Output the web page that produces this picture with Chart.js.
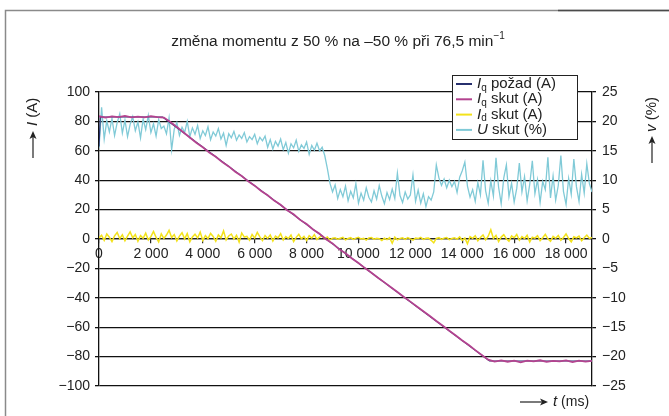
<!DOCTYPE html>
<html>
<head>
<meta charset="utf-8">
<script src="https://cdn.jsdelivr.net/npm/chart.js@4.4.1/dist/chart.umd.min.js"></script>
<style>
  html, body { margin: 0; padding: 0; background: #fff; }
  canvas { display: block; }
</style>
</head>
<body>
<canvas id="chart" width="669" height="416"></canvas>
<script>
// sample spacing (ms) of the recorded series
const uStep = 100;
const iqStep = 250;

// U skut (%) - one value every 100 ms, 0..19000
const uSkut = [
  15.5, 22.4, 17.0, 20.1, 18.2, 20.5, 17.6, 19.8, 21.3, 18.0,
  20.2, 17.4, 19.5, 20.8, 18.4, 19.9, 17.2, 20.4, 18.6, 21.0,
  18.1, 19.6, 17.5, 20.3, 18.8, 19.2, 17.9, 20.6, 15.2, 18.7,
  19.8, 17.6, 19.0, 18.1, 20.0, 17.4, 18.9, 17.8, 19.3, 17.1,
  18.4, 17.6, 19.1, 16.9, 18.2, 17.5, 18.8, 17.0, 18.0, 15.9,
  17.9, 17.2, 18.3, 16.8, 17.7, 17.1, 18.1, 16.5, 17.4, 16.9,
  17.8, 16.2, 17.3, 16.7, 17.5, 15.6, 16.9, 15.3, 16.6, 15.8,
  17.0, 15.2, 16.4, 14.6, 16.2, 15.5, 16.8, 14.9, 16.0, 15.4,
  16.5, 14.4, 15.9, 15.1, 16.3, 15.0, 15.6, 14.2, 12.0, 9.5,
  8.0, 9.2, 6.9, 8.4, 7.2, 9.0, 6.5, 8.1, 7.0, 9.4,
  6.1, 7.8, 6.6, 8.7, 7.1, 6.3, 8.2, 6.8, 9.1, 7.3,
  6.0, 7.9, 6.7, 8.5, 6.9, 11.2, 7.4, 6.2, 8.0, 6.8,
  7.5, 10.9, 6.4, 8.3, 6.1, 7.7, 5.5, 7.2, 6.6, 8.0,
  12.6, 10.4, 9.1, 10.2, 8.7, 10.0, 8.9, 9.8, 7.9, 10.5,
  11.6, 13.1, 9.0, 7.1, 8.4, 6.4, 9.6, 7.5, 13.4, 8.2,
  6.1, 9.9, 7.3, 13.8, 8.8, 6.0, 10.4, 12.6, 7.2, 9.5,
  6.3, 8.6, 12.9, 8.0, 10.6, 6.5, 9.3, 13.3, 7.7, 10.1,
  6.2, 9.8, 8.4, 13.9, 7.0, 10.7, 6.6, 9.1, 14.2, 8.1,
  5.9, 10.3, 7.6, 13.6, 8.9, 6.4, 11.0, 7.8, 12.8, 9.4,
  8.0
];

// Id skut (A) - every 100 ms
const idSkut = [
  0.7, 2.6, -0.9, 3.4, 1.2, -1.8, 2.1, 4.4, 0.3, 2.9,
  -1.2, 1.9, 4.8, 0.8, 3.1, -1.5, 2.4, 0.5, 4.0, -0.7,
  1.6, 5.1, 1.1, -2.0, 3.5, 0.4, 2.7, 5.9, 1.0, 3.0,
  -1.3, 2.0, 4.3, 0.1, 3.7, -1.9, 1.4, 3.3, 0.7, 4.7,
  -1.0, 2.3, 0.3, 3.8, 1.7, -1.6, 2.8, 0.8, 5.5, -0.6,
  2.1, 3.4, 0.0, 2.5, -2.1, 4.1, 1.3, 1.8, -0.8, 3.1,
  0.6, 4.5, 1.4, -1.1, 2.4, 0.4, 2.8, -1.3, 2.0, 0.8,
  3.7, -0.7, 1.6, 0.3, 2.7, -1.7, 1.1, 3.2, 0.1, 1.8,
  -1.0, 2.3, 0.6, 3.0, -0.4, 1.3, 2.1, 0.3, 1.4, -0.6,
  0.6, 0.8, -0.2, 0.5, 1.1, -0.6, 0.3, 0.9, -0.3, 0.6,
  1.2, 0.0, 0.4, -0.8, 0.7, 1.0, -0.1, 0.5, 0.2, -1.0,
  0.6, -0.4, 0.9, -2.9, 1.3, -0.5, 0.4, 0.8, -0.2, 1.0,
  0.1, -0.7, 0.6, 0.3, 1.1, -0.3, 0.5, 0.7, -0.9, -2.6,
  0.4, 0.9, -0.2, 0.6, 1.0, -0.4, 0.3, 0.8, -0.1, 1.4,
  -1.0, 0.7, -3.2, 1.6, 0.5, 2.2, -1.3, 1.1, 2.8, -0.6,
  1.9, 6.3, 0.4, 2.5, -1.8, 1.3, 3.0, 0.2, -1.5, 2.1,
  0.8, 3.1, -0.9, 1.6, 0.3, 2.6, -2.0, 1.2, 0.6, 2.3,
  -1.1, 0.9, 3.2, 0.1, -1.6, 1.8, 0.5, 2.4, -0.8, 1.0,
  3.5, 0.3, -1.9, 1.5, 0.7, 2.0, -1.2, 0.9, 2.7, 0.4,
  1.1
];

// Iq skut (A) - every 250 ms
const iqSkut = [
  83.5, 82.6, 83.4, 82.9,
  83.8, 82.7, 83.3, 82.8,
  83.6, 82.9, 82.6, 79.6,
  76.2, 72.6, 69.0, 65.5,
  62.4, 58.9, 55.9, 52.3,
  49.4, 45.8, 42.9, 39.2,
  36.3, 32.7, 29.8, 26.1,
  23.3, 19.6, 16.8, 13.0,
  10.2, 6.5, 3.6, -0.2,
  -3.0, -6.9, -9.7, -13.3,
  -16.3, -19.8, -22.9, -26.3,
  -29.5, -32.8, -36.0, -39.4,
  -42.6, -45.9, -49.2, -52.4,
  -55.8, -59.0, -62.4, -65.6,
  -69.0, -72.1, -75.6, -78.9,
  -82.1, -83.4, -82.6, -83.5,
  -82.8, -83.9, -82.7, -83.3,
  -82.5, -83.6, -82.9, -83.2,
  -82.6, -83.7, -82.8, -83.4,
  -82.9
];

// Iq pozad (A) - reference, break points
const iqPozadT = [0, 50, 2450, 15050, 19000];
const iqPozad = [63, 83, 83, -83, -83];

const xTicks = [0, 2000, 4000, 6000, 8000, 10000, 12000, 14000, 16000, 18000];
const yTicks = [-100, -80, -60, -40, -20, 0, 20, 40, 60, 80, 100];
const y2Ticks = [-25, -20, -15, -10, -5, 0, 5, 10, 15, 20, 25];

const FONT = '"Liberation Sans", Arial, sans-serif';
const colNavy = '#27306e';
const colMagenta = '#b3438f';
const colYellow = '#f3e21b';
const colCyan = '#80cad7';

const fmtThousands = v => String(v).replace(/\B(?=(\d{3})+(?!\d))/g, ' ');
const fmtMinus = v => (v < 0 ? '\u2212' + Math.abs(v) : String(v));

function drawParts(ctx, parts, x, y) {
  // parts: [text, size, italic, dy]
  let cx = x;
  parts.forEach(p => {
    ctx.font = (p[2] ? 'italic ' : '') + p[1] + 'px ' + FONT;
    ctx.fillText(p[0], cx, y + (p[3] || 0));
    cx += ctx.measureText(p[0]).width;
  });
  return cx - x;
}
function partsWidth(ctx, parts) {
  let w = 0;
  parts.forEach(p => {
    ctx.font = (p[2] ? 'italic ' : '') + p[1] + 'px ' + FONT;
    w += ctx.measureText(p[0]).width;
  });
  return w;
}
function arrow(ctx, x1, y1, x2, y2) {
  ctx.beginPath();
  ctx.moveTo(x1, y1);
  ctx.lineTo(x2 - 6, y2);
  ctx.stroke();
  ctx.beginPath();
  ctx.moveTo(x2, y2);
  ctx.lineTo(x2 - 8, y2 - 3.5);
  ctx.lineTo(x2 - 6, y2);
  ctx.lineTo(x2 - 8, y2 + 3.5);
  ctx.closePath();
  ctx.fill();
}

const decor = {
  id: 'decor',
  beforeDraw(chart) {
    const ctx = chart.ctx;
    ctx.save();
    ctx.fillStyle = '#fff';
    ctx.fillRect(0, 0, chart.width, chart.height);
    // outer frame
    ctx.strokeStyle = '#8a8a8a';
    ctx.lineWidth = 1.5;
    ctx.beginPath();
    ctx.moveTo(5.5, 416);
    ctx.lineTo(5.5, 10.5);
    ctx.lineTo(669, 10.5);
    ctx.stroke();
    ctx.strokeStyle = '#4a4a4a';
    ctx.beginPath();
    ctx.moveTo(558, 10.5);
    ctx.lineTo(669, 10.5);
    ctx.stroke();
    ctx.restore();
  },
  afterDraw(chart) {
    const ctx = chart.ctx;
    ctx.save();
    ctx.fillStyle = '#222';
    ctx.strokeStyle = '#222';
    ctx.lineWidth = 1.2;
    ctx.textBaseline = 'middle';

    // title
    const title = [['změna momentu z 50 % na \u201350 % při 76,5 min', 15.5, false, 0], ['\u22121', 10, false, -6]];
    drawParts(ctx, title, 338 - partsWidth(ctx, title) / 2, 42);

    // left axis title
    ctx.save();
    ctx.translate(33, 125);
    ctx.rotate(-Math.PI / 2);
    arrow(ctx, -33, 0, -6, 0);
    drawParts(ctx, [['I', 15, true, 0], [' (A)', 15, false, 0]], -1, 0);
    ctx.restore();

    // right axis title
    ctx.save();
    ctx.translate(652, 128);
    ctx.rotate(-Math.PI / 2);
    arrow(ctx, -35, 0, -8, 0);
    drawParts(ctx, [['v', 15, true, 0], [' (%)', 15, false, 0]], -4, 0);
    ctx.restore();

    // x axis title
    arrow(ctx, 520, 402, 548, 402);
    drawParts(ctx, [['t', 15, true, 0], [' (ms)', 14, false, 0]], 553, 402);

    // legend
    const lx = 452, ly = 75, lw = 125, lh = 64;
    ctx.fillStyle = '#fff';
    ctx.fillRect(lx, ly, lw, lh);
    ctx.strokeStyle = '#222';
    ctx.lineWidth = 1;
    ctx.strokeRect(lx + 0.5, ly + 0.5, lw, lh);
    const entries = [
      [colNavy, 'q', ' požad (A)'],
      [colMagenta, 'q', ' skut (A)'],
      [colYellow, 'd', ' skut (A)'],
      [colCyan, null, ' skut (%)']
    ];
    entries.forEach((e, i) => {
      const ey = ly + 9 + i * 15.3;
      ctx.strokeStyle = e[0];
      ctx.lineWidth = 2;
      ctx.beginPath();
      ctx.moveTo(456, ey);
      ctx.lineTo(472, ey);
      ctx.stroke();
      ctx.fillStyle = '#222';
      const parts = e[1]
        ? [['I', 15, true, 0], [e[1], 10, false, 4], [e[2], 15, false, 0]]
        : [['U', 15, true, 0], [e[2], 15, false, 0]];
      drawParts(ctx, parts, 477, ey);
    });
    ctx.restore();
  }
};

const toPoints = (arr, step) => arr.map((v, i) => ({ x: i * step, y: v }));

new Chart(document.getElementById('chart'), {
  type: 'line',
  data: {
    datasets: [
      {
        label: 'Iq skut (A)',
        data: toPoints(iqSkut, iqStep),
        borderColor: colMagenta,
        borderWidth: 1.8,
        yAxisID: 'y'
      },
      {
        label: 'Iq požad (A)',
        data: iqPozadT.map((t, i) => ({ x: t, y: iqPozad[i] })),
        borderColor: colNavy,
        borderWidth: 1.2,
        yAxisID: 'y'
      },
      {
        label: 'Id skut (A)',
        data: toPoints(idSkut, uStep),
        borderColor: colYellow,
        borderWidth: 1.5,
        yAxisID: 'y'
      },
      {
        label: 'U skut (%)',
        data: toPoints(uSkut, uStep),
        borderColor: colCyan,
        borderWidth: 1.3,
        yAxisID: 'y2'
      }
    ]
  },
  options: {
    responsive: false,
    animation: false,
    devicePixelRatio: 1,
    layout: { padding: { top: 92, bottom: 30, left: 0, right: 0 } },
    elements: { point: { radius: 0 }, line: { tension: 0 } },
    plugins: { legend: { display: false }, tooltip: { enabled: false } },
    scales: {
      x: {
        type: 'linear',
        position: { y: 0 },
        min: 0,
        max: 19000,
        afterBuildTicks: s => { s.ticks = xTicks.map(v => ({ value: v })); },
        ticks: {
          autoSkip: false,
          maxRotation: 0,
          padding: 3,
          color: '#222',
          font: { family: FONT, size: 14 },
          callback: v => fmtThousands(v)
        },
        grid: { drawOnChartArea: false, drawTicks: true, tickLength: 4, color: '#222', lineWidth: 1.2 },
        border: { display: true, color: '#222', width: 1.2 }
      },
      y: {
        position: 'left',
        min: -100,
        max: 100,
        afterBuildTicks: s => { s.ticks = yTicks.map(v => ({ value: v })); },
        afterFit: s => { s.width = 99; },
        ticks: {
          padding: 5,
          color: '#222',
          font: { family: FONT, size: 14 },
          callback: v => fmtMinus(v)
        },
        grid: { color: '#111', lineWidth: 1.3, tickLength: 4 },
        border: { display: true, color: '#111', width: 1.3 }
      },
      y2: {
        position: 'right',
        min: -25,
        max: 25,
        afterBuildTicks: s => { s.ticks = y2Ticks.map(v => ({ value: v })); },
        afterFit: s => { s.width = 77; },
        ticks: {
          padding: 6,
          color: '#222',
          font: { family: FONT, size: 14 },
          callback: v => fmtMinus(v)
        },
        grid: { drawOnChartArea: false, color: '#111', lineWidth: 1.3, tickLength: 4 },
        border: { display: true, color: '#111', width: 1.3 }
      }
    }
  },
  plugins: [decor]
});
</script>
</body>
</html>
